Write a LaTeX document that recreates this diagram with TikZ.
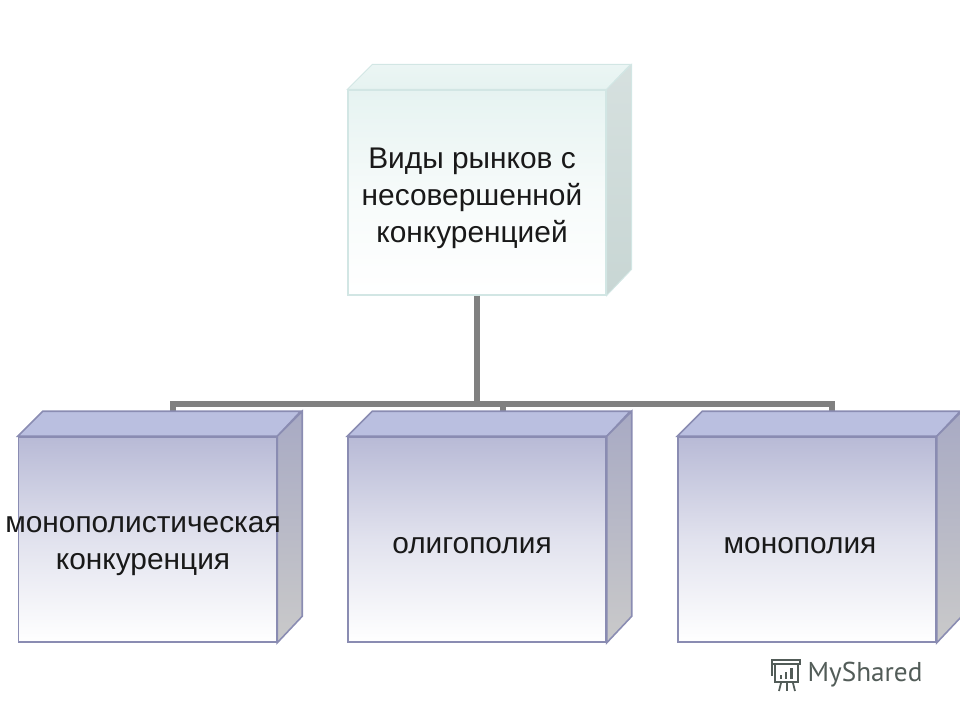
\documentclass[tikz,border=0pt]{standalone}
\usepackage{fontspec}
\setmainfont{Liberation Sans}
\newfontfamily\logofont{PT Sans}
\usetikzlibrary{positioning}

\definecolor{rootline}{HTML}{D2E6E4}
\definecolor{rootfill}{HTML}{E6F3F1}
\definecolor{rootside}{HTML}{C8D6D4}
\definecolor{kindline}{HTML}{8A8CB2}
\definecolor{kindfill}{HTML}{B8BAD6}
\definecolor{kindtint}{HTML}{BABFE0}
\definecolor{kindside}{HTML}{A8AAC4}
\definecolor{logogray}{HTML}{525C58}

\tikzset{
  rootbox/.style={draw=rootline,line width=0.7pt,top color=rootfill,bottom color=white,middle color=rootfill!35!white,minimum width=5.16cm,minimum height=4.1cm,inner sep=0pt},
  roottop/.style={draw=rootline,line width=0.5pt,top color=rootfill!80!white,bottom color=rootfill},
  rootflank/.style={draw=rootline,line width=0.5pt,top color=rootside!75!white,bottom color=rootside},
  kindbox/.style={draw=kindline,line width=0.9pt,top color=kindfill,bottom color=white,middle color=kindfill!42!white,minimum width=5.16cm,minimum height=4.1cm,inner sep=0pt},
  kindtop/.style={draw=kindline,line width=0.9pt,fill=kindtint},
  kindflank/.style={draw=kindline,line width=0.9pt,top color=kindside,bottom color=gray!42},
  boxtext/.style={font=\fontsize{17pt}{21pt}\selectfont,align=center,text=black!90,inner sep=0pt},
  busline/.style={draw=gray,line width=2.9pt},
  logoline/.style={draw=logogray,line width=1pt}
}

\begin{document}
\begin{tikzpicture}[x=0.02cm,y=-0.02cm]

\useasboundingbox (0,0) rectangle (960,720);

\node[kindbox] (rivalry) at (147.5,539.5) {};
\node[rootbox] (root) at (477,192.5) {};
\node[kindbox] (oligopoly) at (477,539.5) {};
\node[kindbox] (monopoly) at (807,539.5) {};

\coordinate (bus) at (477,404);
\coordinate (rivalrydrop) at (173,414);
\coordinate (oligopolydrop) at (503,414);
\coordinate (monopolydrop) at (832,414);

\draw[busline] (root.south) -- (bus);
\draw[busline] (rivalrydrop) |- (bus);
\draw[busline] (bus) -| (monopolydrop);
\draw[busline] (bus) -| (oligopolydrop);

\draw[roottop] (root.north west) -- ++(25,-25) -- ++(258,0) -- (root.north east) -- cycle;
\draw[rootflank] (root.north east) -- ++(25,-25) -- ++(0,205) -- (root.south east) -- cycle;

\draw[kindtop] (rivalry.north west) -- ++(25,-25) -- ++(258,0) -- (rivalry.north east) -- cycle;
\draw[kindflank] (rivalry.north east) -- ++(25,-25) -- ++(0,205) -- (rivalry.south east) -- cycle;

\draw[kindtop] (oligopoly.north west) -- ++(25,-25) -- ++(258,0) -- (oligopoly.north east) -- cycle;
\draw[kindflank] (oligopoly.north east) -- ++(25,-25) -- ++(0,205) -- (oligopoly.south east) -- cycle;

\draw[kindtop] (monopoly.north west) -- ++(25,-25) -- ++(258,0) -- (monopoly.north east) -- cycle;
\draw[kindflank] (monopoly.north east) -- ++(25,-25) -- ++(0,205) -- (monopoly.south east) -- cycle;

\node[boxtext] (roottext) at (472,198) {Виды рынков с\\несовершенной\\конкуренцией};
\node[boxtext] (rivalrytext) at (143,546) {монополистическая\\конкуренция};
\node[boxtext] (oligopolytext) at (472,546) {олигополия};
\node[boxtext] (monopolytext) at (800,546) {монополия};

\node[font=\logofont\fontsize{15.5pt}{15.5pt}\selectfont,text=logogray,inner sep=0pt] (logotext) at (865,675) {MyShared};

\draw[logoline] (772,663) -- (772,660) -- (800,660) -- (800,664) -- (772,664) -- (772,676);
\draw[logoline] (775,664) rectangle (798,682);
\draw[logoline] (781,683) -- (779,691);
\draw[logoline] (787,683) -- (787,691);
\draw[logoline] (793,683) -- (795,691);
\fill[logogray] (780,675) rectangle (782,679);
\fill[logogray] (785,672) rectangle (787,679);
\fill[logogray] (790,668) rectangle (793,679);

\end{tikzpicture}
\end{document}
